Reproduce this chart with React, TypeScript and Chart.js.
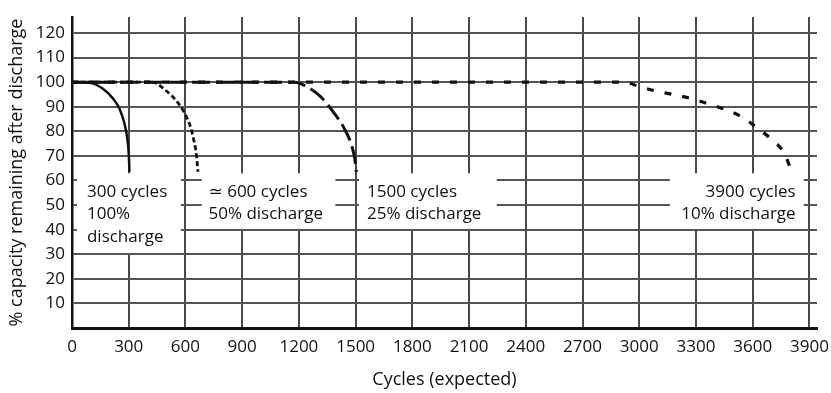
import React, { useEffect, useRef } from "react";
import { Chart, registerables } from "chart.js";

Chart.register(...registerables);

// ---- Data ----
const xTickValues = [0, 300, 600, 900, 1200, 1500, 1800, 2100, 2400, 2700, 3000, 3300, 3600, 3900];
const yTickValues = [10, 20, 30, 40, 50, 60, 70, 80, 90, 100, 110, 120];

// 300 cycles, 100% discharge (solid)
const cycles100 = [0, 100, 160, 215, 250, 277, 291, 300, 304];
const capacity100 = [100, 99.7, 97.5, 93.5, 89.4, 83.3, 77.8, 71, 63.5];

// ~600 cycles, 50% discharge (short dash)
const cycles50 = [0, 424, 496, 548, 591, 623, 644, 658, 666];
const capacity50 = [100, 100, 96.6, 92.8, 88, 82.6, 76.5, 70.4, 63.5];

// 1500 cycles, 25% discharge (long dash)
const cycles25 = [0, 1177, 1246, 1316, 1386, 1439, 1478, 1495, 1504];
const capacity25 = [100, 100, 98, 94, 87.4, 81.3, 74.5, 69, 63.5];

// 3900 cycles, 10% discharge (sparse dash)
const cycles10 = [0, 2930, 2985, 3078, 3172, 3266, 3357, 3451, 3539, 3618, 3697, 3765, 3807];
const capacity10 = [100, 100, 98.6, 96.6, 95.1, 93.5, 91.4, 89, 86, 81.7, 76.9, 71.3, 63.5];

const label100 = ["300 cycles", "100%", "discharge"];
const label50 = ["\u2243 600 cycles", "50% discharge"];
const label25 = ["1500 cycles", "25% discharge"];
const label10 = ["3900 cycles", "10% discharge"];

const xTitle = "Cycles (expected)";
const yTitle = "% capacity remaining after discharge";

// ---- Layout of the text boxes (in axis units) ----
const boxes = [
  { lines: label100, x0: 26, x1: 576, y0: 62.9, y1: 30.5, tx: 79, align: "left" },
  { lines: label50, x0: 686, x1: 1393, y0: 62.9, y1: 40.3, tx: 722, align: "left" },
  { lines: label25, x0: 1518, x1: 2246, y0: 62.9, y1: 40.3, tx: 1560, align: "left" },
  { lines: label10, x0: 3162, x1: 3870, y0: 62.9, y1: 40.3, tx: 3827, align: "right" },
];
const textFirstLineY = 55.3;

const FONT = '"Open Sans", "DejaVu Sans", sans-serif';

const toPoints = (xs: number[], ys: number[]) => xs.map((x, i) => ({ x, y: ys[i] }));

const boxPlugin = {
  id: "textBoxes",
  afterDatasetsDraw(chart: any) {
    const { ctx, scales } = chart;
    const xs = scales.x;
    const ys = scales.y;
    ctx.save();
    boxes.forEach((b) => {
      const px0 = xs.getPixelForValue(b.x0);
      const px1 = xs.getPixelForValue(b.x1);
      const py0 = ys.getPixelForValue(b.y0);
      const py1 = ys.getPixelForValue(b.y1);
      ctx.fillStyle = "#ffffff";
      ctx.fillRect(px0, py0, px1 - px0, py1 - py0);
      ctx.fillStyle = "#111111";
      ctx.font = `17px ${FONT}`;
      ctx.textAlign = b.align;
      ctx.textBaseline = "middle";
      const tx = xs.getPixelForValue(b.tx);
      const ty = ys.getPixelForValue(textFirstLineY);
      b.lines.forEach((t, i) => ctx.fillText(t, tx, ty + i * 22.5));
    });
    ctx.restore();
  },
};

export default function App() {
  const canvasRef = useRef<HTMLCanvasElement | null>(null);

  useEffect(() => {
    const canvas = canvasRef.current;
    if (!canvas) return;
    const common = {
      borderColor: "#111111",
      pointRadius: 0,
      fill: false,
      cubicInterpolationMode: "monotone" as const,
    };
    const chart = new Chart(canvas, {
      type: "line",
      data: {
        datasets: [
          { ...common, data: toPoints(cycles10, capacity10), borderWidth: 3.2, borderDash: [7, 11] },
          { ...common, data: toPoints(cycles25, capacity25), borderWidth: 3, borderDash: [18, 6] },
          { ...common, data: toPoints(cycles50, capacity50), borderWidth: 2.8, borderDash: [5, 3] },
          { ...common, data: toPoints(cycles100, capacity100), borderWidth: 2.5 },
        ],
      },
      options: {
        responsive: false,
        animation: false,
        devicePixelRatio: 1,
        layout: { padding: { left: 0, top: 17, right: 14, bottom: 0 } },
        plugins: {
          legend: { display: false },
          tooltip: { enabled: false },
        },
        scales: {
          x: {
            type: "linear",
            min: 0,
            max: 3940,
            afterBuildTicks: (scale: any) => {
              scale.ticks = xTickValues.map((v) => ({ value: v }));
            },
            afterFit: (scale: any) => {
              scale.height = 65;
              scale.paddingLeft = 0;
              scale.paddingRight = 0;
            },
            grid: { color: "#4a4a4a", lineWidth: 2, drawTicks: false },
            border: { color: "#111111", width: 3 },
            ticks: {
              padding: 9,
              color: "#111111",
              font: { family: FONT, size: 17 },
              maxRotation: 0,
              autoSkip: false,
              callback: (v: any) => String(v),
            },
            title: {
              display: true,
              text: xTitle,
              color: "#111111",
              font: { family: FONT, size: 18 },
              padding: { top: 0, bottom: 2 },
            },
          },
          y: {
            type: "linear",
            min: 0,
            max: 126.5,
            afterBuildTicks: (scale: any) => {
              scale.ticks = yTickValues.map((v) => ({ value: v }));
            },
            afterFit: (scale: any) => {
              scale.width = 72;
              scale.paddingTop = 0;
              scale.paddingBottom = 0;
            },
            grid: { color: "#555555", lineWidth: 2, drawTicks: false },
            border: { color: "#111111", width: 2.5 },
            ticks: {
              padding: 7,
              color: "#111111",
              font: { family: FONT, size: 17 },
              autoSkip: false,
              callback: (v: any) => String(v),
            },
            title: {
              display: true,
              text: yTitle,
              color: "#111111",
              font: { family: FONT, size: 18 },
              padding: { top: 6, bottom: 0 },
            },
          },
        },
      },
      plugins: [boxPlugin],
    } as any);
    return () => chart.destroy();
  }, []);

  return (
    <div style={{ position: "fixed", left: 0, top: 0, width: 831, height: 393, background: "#fff" }}>
      <canvas ref={canvasRef} width={831} height={393} style={{ width: 831, height: 393 }} />
    </div>
  );
}
